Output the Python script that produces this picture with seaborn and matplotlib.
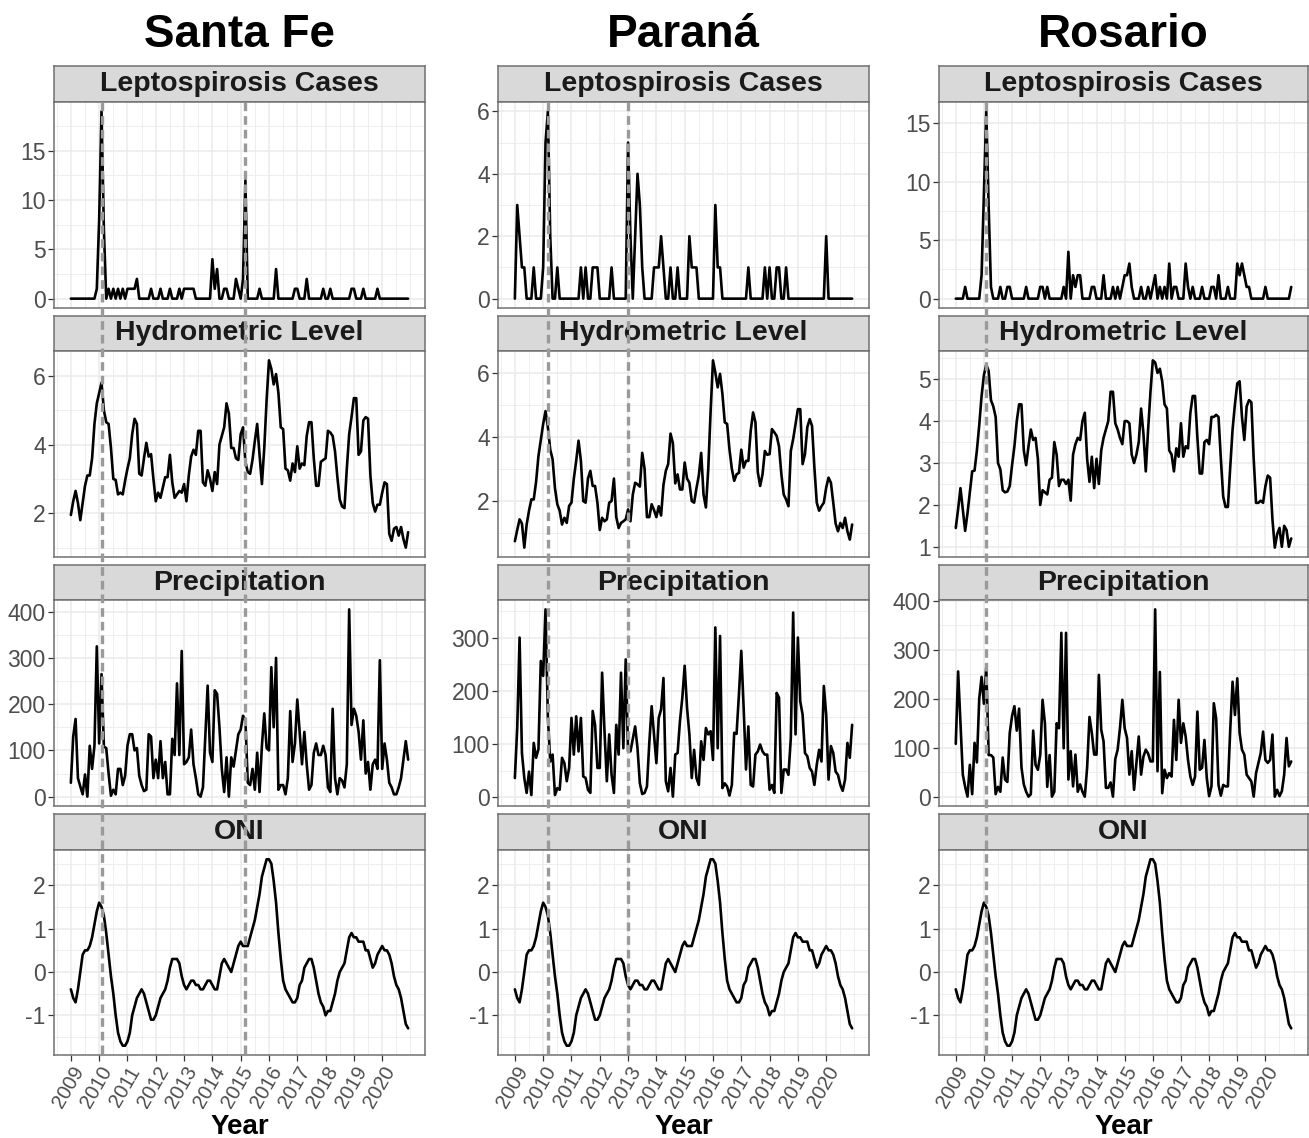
import numpy as np
import pandas as pd
import matplotlib
matplotlib.use("Agg")
import matplotlib.pyplot as plt
import seaborn as sns
from matplotlib.ticker import FixedLocator, AutoMinorLocator
from matplotlib.transforms import blended_transform_factory
from matplotlib.lines import Line2D

sns.set_style("white")
plt.rcParams["font.family"] = ["Liberation Sans", "DejaVu Sans"]
plt.rcParams["axes.unicode_minus"] = False

# ---------------- data (monthly, Jan 2009 - Dec 2020) ----------------
cities = ["Santa Fe", "Paraná", "Rosario"]
variables = ["Leptospirosis Cases", "Hydrometric Level", "Precipitation", "ONI"]
year_labels = [str(y) for y in range(2009, 2021)]

sf_lepto = [0,0,0,0,0,0,0,0,0,0,0,1,
            8,19,7,0,1,0,1,0,1,0,1,0,
            1,1,1,1,2,0,0,0,0,0,1,0,
            0,0,1,0,0,0,1,0,0,0,1,0,
            1,1,1,1,1,0,0,0,0,0,0,0,
            4,1,3,0,0,1,1,0,0,0,2,1,
            0,2,12,0,0,0,0,0,1,0,0,0,
            0,0,0,3,0,0,0,0,0,0,0,1,
            1,0,0,0,2,0,0,0,0,0,0,1,
            0,0,1,0,0,0,0,0,0,0,0,1,
            1,0,0,0,1,0,0,0,0,0,1,0,
            0,0,0,0,0,0,0,0,0,0,0,0]
sf_hydro = [1.95,2.35,2.65,2.3,1.8,2.3,2.8,3.1,3.1,3.6,4.6,5.2,
            5.5,5.8,5.0,4.65,4.6,3.9,3.0,2.97,2.55,2.6,2.55,2.95,
            3.3,3.6,4.3,4.75,4.6,3.15,3.1,3.6,4.05,3.65,3.72,3.0,
            2.35,2.6,2.45,2.75,3.05,3.05,3.7,2.9,2.45,2.55,2.65,2.6,
            2.85,2.35,3.1,3.65,3.85,3.7,4.4,4.4,2.9,2.8,3.25,3.0,
            2.65,3.2,2.85,4.0,4.25,4.5,5.2,4.9,3.9,3.9,3.6,3.55,
            4.3,4.5,3.5,3.2,3.15,3.55,4.1,4.6,3.7,2.85,3.9,5.3,
            6.45,6.2,5.75,6.05,5.5,4.5,4.45,3.3,3.25,2.95,3.45,3.2,
            3.95,3.3,3.45,3.4,4.25,4.65,4.65,3.6,2.8,2.8,3.5,3.55,
            3.6,4.4,4.35,4.25,3.8,3.05,2.4,2.2,2.15,3.3,4.3,4.8,
            5.35,5.35,3.7,3.8,4.7,4.8,4.75,3.1,2.3,2.05,2.25,2.25,
            2.6,2.9,2.85,1.4,1.2,1.55,1.6,1.35,1.6,1.25,1.0,1.45]
sf_precip = [30,130,168,40,22,5,48,0,110,60,110,325,
             115,265,108,105,50,2,15,5,60,60,25,45,
             110,135,135,100,105,45,25,12,15,135,130,40,
             80,40,120,40,75,5,5,125,90,245,90,315,
             70,75,85,145,70,40,5,0,20,130,240,95,
             75,230,222,150,60,10,85,0,85,65,100,135,
             145,175,165,30,25,60,15,95,10,110,180,105,
             100,280,150,300,15,25,25,5,40,185,75,115,
             210,140,70,140,70,15,25,95,115,90,90,110,
             90,20,10,190,40,5,40,35,20,70,405,155,
             190,175,140,80,165,50,75,15,70,80,60,295,
             60,115,80,30,20,5,5,20,40,80,120,80]
oni = [-0.4,-0.6,-0.7,-0.4,0.0,0.4,0.5,0.5,0.6,0.8,1.1,1.4,
       1.6,1.5,1.3,0.9,0.4,-0.1,-0.5,-1.0,-1.4,-1.6,-1.7,-1.7,
       -1.6,-1.4,-1.0,-0.8,-0.6,-0.5,-0.4,-0.5,-0.7,-0.9,-1.1,-1.1,
       -1.0,-0.8,-0.6,-0.5,-0.4,-0.2,0.1,0.3,0.3,0.3,0.2,-0.1,
       -0.3,-0.4,-0.3,-0.2,-0.2,-0.3,-0.3,-0.4,-0.4,-0.3,-0.2,-0.2,
       -0.3,-0.4,-0.4,-0.1,0.2,0.3,0.2,0.1,0.0,0.2,0.4,0.6,
       0.7,0.6,0.6,0.6,0.8,1.0,1.2,1.5,1.8,2.2,2.4,2.6,
       2.6,2.5,2.1,1.6,0.9,0.3,-0.2,-0.4,-0.5,-0.6,-0.7,-0.7,
       -0.6,-0.3,-0.2,0.1,0.2,0.3,0.3,0.1,-0.2,-0.5,-0.7,-0.8,
       -1.0,-0.9,-0.9,-0.7,-0.5,-0.2,0.0,0.1,0.2,0.5,0.8,0.9,
       0.8,0.8,0.7,0.7,0.7,0.5,0.5,0.3,0.1,0.2,0.4,0.5,
       0.6,0.5,0.5,0.4,0.2,-0.1,-0.3,-0.4,-0.6,-0.9,-1.2,-1.3]

pa_lepto = [0,3,2,1,1,0,0,0,1,0,0,0,
            1,5,6,2,0,0,1,0,0,0,0,0,
            0,0,0,0,1,0,1,0,0,1,1,1,
            0,0,0,0,0,1,0,0,0,0,0,0,
            5,2,0,2,4,3,1,0,0,0,0,1,
            1,1,2,1,0,0,1,0,0,1,0,0,
            0,0,2,1,1,1,0,0,0,0,0,0,
            0,3,1,1,0,0,0,0,0,0,0,0,
            0,0,0,1,0,0,0,0,0,0,1,0,
            1,0,0,1,1,0,0,1,0,0,0,0,
            0,0,0,0,0,0,0,0,0,0,0,0,
            2,0,0,0,0,0,0,0,0,0,0,0]
pa_hydro = [0.75,1.1,1.43,1.3,0.55,1.27,1.7,2.05,2.05,2.6,3.4,3.9,
            4.4,4.8,4.3,3.6,3.3,2.4,1.9,1.7,1.27,1.48,1.32,1.85,
            1.95,2.7,3.25,3.88,3.25,2.0,1.95,2.7,2.94,2.47,2.47,1.95,
            1.1,1.48,1.37,1.43,1.95,2.0,2.7,1.5,1.16,1.32,1.37,1.43,
            1.74,1.37,2.2,2.57,2.52,2.45,3.5,3.0,1.5,1.5,1.9,1.72,
            1.5,1.84,1.55,2.5,2.94,3.15,4.1,3.8,2.55,2.83,2.36,2.36,
            3.2,2.7,2.57,2.0,1.95,2.4,2.8,3.5,2.2,1.8,3.0,4.8,
            6.38,6.0,5.54,5.96,5.33,4.45,4.4,3.6,3.0,2.63,2.83,2.88,
            3.6,3.04,3.25,3.25,4.19,4.76,4.45,2.9,2.47,2.83,3.56,3.44,
            3.46,4.24,4.14,4.03,3.7,2.83,2.2,2.05,1.84,3.56,3.93,4.4,
            4.86,4.86,3.15,3.46,4.3,4.55,4.34,3.04,1.95,1.7,1.84,1.95,
            2.42,2.73,2.57,1.95,1.3,1.06,1.32,1.16,1.48,1.06,0.8,1.27]
pa_precip = [36,130,300,83,36,8,48,4,102,74,90,256,
             228,353,150,67,80,4,17,14,74,64,30,55,
             149,80,152,86,149,39,36,14,8,162,136,55,
             55,234,124,30,118,42,8,136,80,234,92,259,
             86,86,110,133,92,26,6,8,20,102,171,118,
             64,149,165,224,30,11,55,1,80,83,143,187,
             247,168,118,36,89,36,23,105,70,130,118,124,
             70,319,92,303,17,26,20,3,23,121,119,193,
             275,168,52,133,23,20,80,86,99,86,80,80,
             14,23,8,196,187,8,52,52,42,111,347,118,
             300,180,155,83,77,55,48,23,61,89,67,209,
             155,33,96,83,48,42,23,12,33,102,74,136]

ro_lepto = [0,0,0,0,1,0,0,0,0,0,0,2,
            9,16,8,1,0,0,0,1,0,0,1,1,
            0,0,0,0,0,0,1,0,0,0,0,0,
            1,1,0,1,0,0,0,0,0,0,1,0,
            4,0,2,1,2,2,0,0,0,0,1,1,
            0,0,0,2,0,0,0,1,0,1,0,1,
            2,2,3,1,0,0,0,1,0,0,1,0,
            1,2,0,1,0,1,0,3,0,1,1,0,
            0,0,3,1,0,1,0,0,0,1,0,0,
            0,1,1,0,2,0,0,0,1,0,0,0,
            3,2,3,2,1,1,0,0,0,0,0,0,
            1,0,0,0,0,0,0,0,0,0,0,1]
ro_hydro = [1.45,1.9,2.4,1.9,1.38,1.8,2.3,2.8,2.82,3.3,3.9,4.6,
            5.1,5.35,5.2,4.5,4.35,4.1,3.0,2.85,2.35,2.3,2.32,2.45,
            2.95,3.4,4.0,4.4,4.4,3.3,2.95,3.4,3.8,3.55,3.6,3.1,
            2.0,2.35,2.3,2.25,2.6,2.65,3.5,3.2,2.45,2.6,2.6,2.5,
            2.6,2.1,3.2,3.45,3.6,3.55,4.0,4.2,3.1,2.55,3.15,2.4,
            3.1,2.5,3.3,3.6,3.8,4.0,4.7,4.7,3.95,3.8,3.6,3.45,
            4.0,4.0,3.95,3.2,3.0,3.2,3.5,4.3,3.7,2.8,3.8,4.7,
            5.45,5.4,5.15,5.25,4.95,4.4,4.3,3.3,3.2,2.8,3.35,3.15,
            3.95,3.15,3.4,3.35,4.2,4.6,4.6,3.6,2.75,2.75,3.5,3.55,
            3.45,4.1,4.1,4.15,4.1,3.1,2.2,1.95,1.95,2.9,3.8,4.4,
            4.9,4.95,4.1,3.55,4.35,4.5,4.45,3.1,2.05,2.05,2.1,2.05,
            2.45,2.7,2.65,1.65,0.98,1.3,1.45,1.0,1.5,1.4,1.0,1.2]
ro_precip = [108,256,150,45,20,0,65,5,110,70,200,245,
             190,265,85,85,80,5,20,10,80,35,30,130,
             165,185,135,180,60,25,10,0,5,135,65,55,
             85,198,150,20,85,0,10,150,140,335,99,335,
             35,93,21,86,10,25,10,0,60,163,130,86,
             86,249,137,113,18,18,29,0,77,96,140,198,
             140,120,45,93,14,69,123,45,82,96,88,72,
             72,383,52,255,7,55,38,48,41,157,75,198,
             110,150,123,75,41,24,41,174,55,59,116,38,
             1,21,191,160,24,2,24,21,21,137,235,167,
             242,130,96,86,45,38,31,0,48,69,89,133,
             75,69,75,127,0,14,1,11,45,120,62,72]

# peak dates marked with dashed lines
sf_peaks = ["2010-02-01", "2015-03-01"]
pa_peaks = ["2010-03-01", "2013-01-01"]
ro_peaks = ["2010-02-01"]

# y-axis breaks per panel
sf_breaks = [[0, 5, 10, 15], [2, 4, 6], [0, 100, 200, 300, 400], [-1, 0, 1, 2]]
pa_breaks = [[0, 2, 4, 6], [2, 4, 6], [0, 100, 200, 300], [-1, 0, 1, 2]]
ro_breaks = [[0, 5, 10, 15], [1, 2, 3, 4, 5], [0, 100, 200, 300, 400], [-1, 0, 1, 2]]

# ---------------- helpers ----------------
dates = pd.date_range("2009-01-01", periods=144, freq="MS")


def dec_year(d):
    d = pd.to_datetime(d)
    return d.year + (d.month - 1) / 12.0


t = np.asarray(dec_year(dates), dtype=float)

series = {
    "Santa Fe": [sf_lepto, sf_hydro, sf_precip, oni],
    "Paraná": [pa_lepto, pa_hydro, pa_precip, oni],
    "Rosario": [ro_lepto, ro_hydro, ro_precip, oni],
}
peaks = {"Santa Fe": sf_peaks, "Paraná": pa_peaks, "Rosario": ro_peaks}
breaks = {"Santa Fe": sf_breaks, "Paraná": pa_breaks, "Rosario": ro_breaks}

# ---------------- layout (pixels) ----------------
W, H = 1309, 1138
fig = plt.figure(figsize=(W / 100, H / 100), dpi=100)
col_x = {"Santa Fe": (54, 425), "Paraná": (498, 869), "Rosario": (939, 1308)}
rows = [(66, 102, 308), (316, 351, 557), (565, 600, 806), (814, 850, 1055)]

BORDER = "#707070"
TICKCOL = "#4D4D4D"

span = t[-1] - t[0]
xlim = (t[0] - 0.05 * span, t[-1] + 0.05 * span)


def rect(x0, x1, y0, y1):
    return [x0 / W, 1 - y1 / H, (x1 - x0) / W, (y1 - y0) / H]


for city in cities:
    x0, x1 = col_x[city]
    axes = []
    for r, (s_top, p_top, p_bot) in enumerate(rows):
        # strip
        sax = fig.add_axes(rect(x0, x1, s_top, p_top))
        sax.set_facecolor("#D9D9D9")
        sax.set_xticks([])
        sax.set_yticks([])
        for sp in sax.spines.values():
            sp.set_color(BORDER)
            sp.set_linewidth(1.1)
        sax.text(0.5, 0.5, variables[r], transform=sax.transAxes, ha="center",
                 va="center", fontsize=20.5, fontweight="bold", color="#1A1A1A")

        # panel
        ax = fig.add_axes(rect(x0, x1, p_top, p_bot))
        vals = np.asarray(series[city][r], dtype=float)
        df = pd.DataFrame({"t": t, "v": vals})
        sns.lineplot(data=df, x="t", y="v", ax=ax, color="black", linewidth=1.9)
        vmin, vmax = vals.min(), vals.max()
        rng = vmax - vmin
        ax.set_ylim(vmin - 0.05 * rng, vmax + 0.05 * rng)
        ax.set_xlim(*xlim)
        ax.yaxis.set_major_locator(FixedLocator(breaks[city][r]))
        ax.yaxis.set_minor_locator(AutoMinorLocator(2))
        ax.xaxis.set_major_locator(FixedLocator(list(range(2009, 2021))))
        ax.xaxis.set_minor_locator(AutoMinorLocator(2))
        ax.grid(which="major", color="#EBEBEB", linewidth=1.1)
        ax.grid(which="minor", color="#EBEBEB", linewidth=0.6)
        ax.set_axisbelow(True)
        for sp in ax.spines.values():
            sp.set_color(BORDER)
            sp.set_linewidth(1.1)
        ax.set_xlabel("")
        ax.set_ylabel("")
        ax.tick_params(axis="y", which="major", length=4, width=0.9, color="#333333",
                       labelsize=16.5, labelcolor=TICKCOL, pad=2, left=True)
        ax.tick_params(axis="y", which="minor", left=False)
        ax.tick_params(axis="x", which="minor", bottom=False)
        if r == 3:
            ax.set_xticklabels(year_labels)
            ax.tick_params(axis="x", which="major", length=4, width=0.9,
                           color="#333333", labelsize=14.5, labelcolor=TICKCOL,
                           bottom=True, pad=2)
            for lab in ax.get_xticklabels():
                lab.set_rotation(60)
                lab.set_ha("right")
                lab.set_va("top")
                lab.set_rotation_mode("anchor")
        else:
            ax.tick_params(axis="x", which="major", bottom=False, labelbottom=False)
        axes.append(ax)

    # column title and x label
    cx = (x0 + x1) / 2
    fig.text(cx / W, 1 - 35 / H, city, ha="center", va="center", fontsize=33,
             fontweight="bold", color="black")
    fig.text(cx / W, 1 - 1127 / H, "Year", ha="center", va="center", fontsize=20,
             fontweight="bold", color="black")

    # dashed lines spanning the whole column
    trans = blended_transform_factory(axes[0].transData, fig.transFigure)
    for d in peaks[city]:
        xv = float(dec_year(d))
        ln = Line2D([xv, xv], [1 - rows[0][1] / H, 1 - rows[3][2] / H],
                    transform=trans, color="#9A9A9A", linewidth=2.4,
                    linestyle=(0, (2.6, 1.5)), zorder=20)
        fig.add_artist(ln)

fig.savefig("out.png", dpi=100, facecolor="white")
